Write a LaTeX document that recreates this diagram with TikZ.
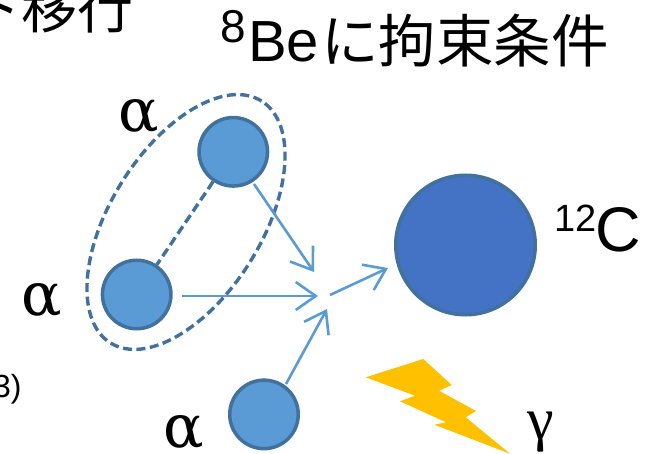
\documentclass[tikz,border=0pt]{standalone}
\usepackage{fontspec}
\setmainfont{Liberation Sans}
\newfontfamily\cjkfont{Noto Sans CJK JP}
\newfontfamily\greekfont{Liberation Serif}
\newfontfamily\alphafont{DejaVu Serif}
\usetikzlibrary{arrows.meta}
\definecolor{ballfill}{HTML}{5B9BD5}
\definecolor{ballline}{HTML}{41719C}
\definecolor{bigfill}{HTML}{4472C4}
\definecolor{boltfill}{HTML}{FFC000}
\tikzset{
  ball/.style={circle,draw=ballline,fill=ballfill,line width=3.5pt,minimum size=68.5pt,inner sep=0pt},
  bigball/.style={circle,draw=ballline,fill=bigfill,line width=3.5pt,minimum size=139.5pt,inner sep=0pt},
  flow/.style={draw=ballfill,line width=2.6pt,-{Straight Barb[length=20pt,width=28pt,line width=2.6pt]}},
  link/.style={draw=ballline,line width=3.4pt,dash pattern=on 9pt off 4.5pt},
  lbl/.style={inner sep=0pt,anchor=base west,text=black},
  glabel/.style={inner sep=0pt,anchor=base,font=\alphafont\fontsize{60}{60}\selectfont},
  gammalabel/.style={inner sep=0pt,anchor=base,font=\greekfont\fontsize{60}{60}\selectfont}
}
\begin{document}
\begin{tikzpicture}[x=1pt,y=-1pt]
\useasboundingbox (0,0) rectangle (656,454);
\clip (0,0) rectangle (656,454);
% texts
\node[lbl] (t1) at (-35,29) {\cjkfont\fontsize{56}{56}\selectfont ト移行};
\node[lbl] (t2) at (220,43) {\fontsize{46}{46}\selectfont 8};
\node[lbl] (t3) at (248,62) {\fontsize{58}{58}\selectfont Be};
\node[lbl] (t4) at (321,63) {\cjkfont\fontsize{57.5}{57.5}\selectfont に拘束条件};
\node[lbl] (t5) at (-7,397) {\fontsize{32}{32}\selectfont 3)};
\node[lbl] (t6) at (554,232) {\fontsize{38}{38}\selectfont 12};
\node[lbl] (t7) at (595,252) {\fontsize{63}{63}\selectfont C};
\node[glabel] (a1) at (139,132) {α};
\node[glabel] (a2) at (42,316) {α};
\node[glabel] (a3) at (184,447) {α};
\node[gammalabel] (g1) at (541,439) {γ};
% group outline
\draw[link] (186,222) ellipse [x radius=142.6pt,y radius=75.5pt,rotate=58];
% balls
\node[ball] (top) at (233.3,151.8) {};
\node[ball] (mid) at (136.7,294.5) {};
\node[ball] (bot) at (264,414.4) {};
\node[bigball] (c12) at (465.5,245) {};
\draw[link] (top) -- (mid);
% flow ends
\coordinate (e1) at (314,272);
\coordinate (e2) at (318,296);
\coordinate (e3) at (327,309);
\coordinate (s4) at (330,295);
\coordinate (e4) at (388,268);
\coordinate (s1) at (254,184);
\coordinate (s2) at (182,296);
\coordinate (s3) at (286,384);
\draw[flow] (s1) -- (e1);
\draw[flow] (s2) -- (e2);
\draw[flow] (s3) -- (e3);
\draw[flow] (s4) -- (e4);
% bolt
\fill[boltfill] (365.7,377.3) -- (423.3,359) -- (451.7,385) -- (439,390.7) -- (476,411) -- (465.7,417.3) -- (510,453.7) -- (434.3,424.7) -- (446,422.3) -- (400,401.3) -- (415,395.7) -- cycle;
\end{tikzpicture}
\end{document}
